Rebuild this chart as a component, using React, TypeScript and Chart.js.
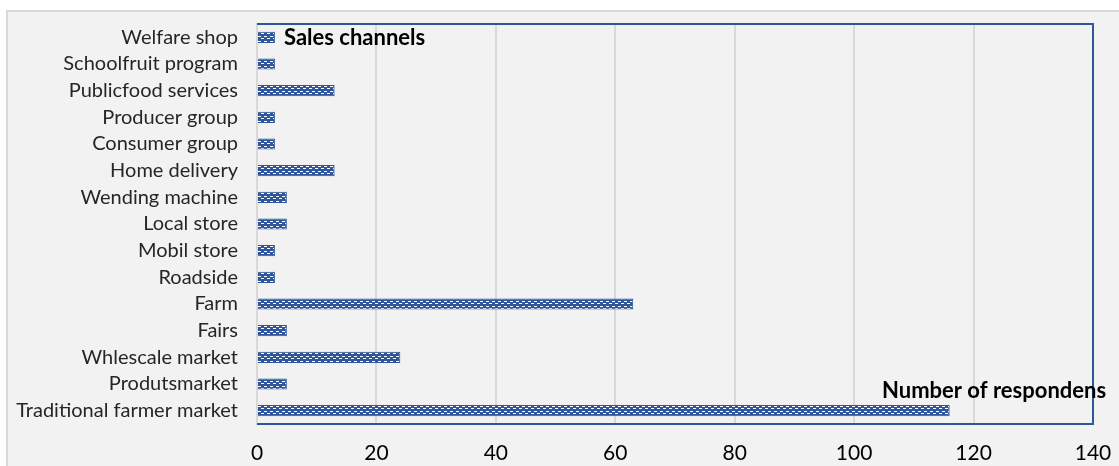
import React, { useEffect, useRef } from "react";
import { Chart, registerables } from "chart.js";

Chart.register(...registerables);

const categories = [
  "Welfare shop",
  "Schoolfruit program",
  "Publicfood services",
  "Producer group",
  "Consumer group",
  "Home delivery",
  "Wending machine",
  "Local store",
  "Mobil store",
  "Roadside",
  "Farm",
  "Fairs",
  "Whlescale market",
  "Produtsmarket",
  "Traditional farmer market",
];
const respondents = [3, 3, 13, 3, 3, 13, 5, 5, 3, 3, 63, 5, 24, 5, 116];
const xTicks = [0, 20, 40, 60, 80, 100, 120, 140];
const yTitle = "Sales channels";
const xTitle = "Number of respondens";

const BLUE = "#2f559a";
const BG = "#f2f2f2";
const FONT = "Lato, 'Open Sans', sans-serif";

function makePattern(): CanvasPattern | string {
  const c = document.createElement("canvas");
  c.width = 6;
  c.height = 5;
  const g = c.getContext("2d");
  if (!g) return BLUE;
  g.fillStyle = BLUE;
  g.fillRect(0, 0, 6, 5);
  g.fillStyle = "#ffffff";
  g.fillRect(0, 1, 3, 1);
  g.fillRect(3, 3, 3, 1);
  const p = g.createPattern(c, "repeat");
  return p || BLUE;
}

export default function App() {
  const ref = useRef<HTMLCanvasElement | null>(null);

  useEffect(() => {
    document.body.style.margin = "0";
    const canvas = ref.current;
    if (!canvas) return;

    const bgPlugin = {
      id: "bgPlugin",
      beforeDraw(chart: any) {
        const { ctx, width, height } = chart;
        ctx.save();
        ctx.fillStyle = "#ffffff";
        ctx.fillRect(0, 0, width, height);
        ctx.fillStyle = BG;
        ctx.fillRect(7, 11, width - 7, height - 11);
        ctx.strokeStyle = "#d9d9d9";
        ctx.lineWidth = 2;
        ctx.beginPath();
        ctx.moveTo(7, height);
        ctx.lineTo(7, 11);
        ctx.lineTo(width, 11);
        ctx.stroke();
        ctx.restore();
      },
      afterDraw(chart: any) {
        const { ctx, chartArea } = chart;
        const { left, right, top, bottom } = chartArea;
        ctx.save();
        ctx.strokeStyle = BLUE;
        ctx.lineWidth = 2;
        ctx.beginPath();
        ctx.moveTo(left, top);
        ctx.lineTo(right, top);
        ctx.lineTo(right, bottom);
        ctx.lineTo(left, bottom);
        ctx.stroke();
        ctx.fillStyle = "#000000";
        ctx.font = `bold 22px ${FONT}`;
        ctx.textBaseline = "middle";
        ctx.textAlign = "left";
        ctx.fillText(yTitle, left + 27, top + 14);
        ctx.fillText(xTitle, right - 211, bottom - 33);
        ctx.restore();
      },
    };

    const chart = new Chart(canvas, {
      type: "bar",
      data: {
        labels: categories,
        datasets: [
          {
            label: xTitle,
            data: respondents,
            backgroundColor: makePattern() as any,
            borderColor: BLUE,
            borderWidth: 1,
            barPercentage: 0.42,
            categoryPercentage: 1,
          },
        ],
      },
      options: {
        indexAxis: "y",
        animation: false,
        responsive: false,
        maintainAspectRatio: false,
        layout: { padding: { left: 0, top: 24, right: 26, bottom: 0 } },
        plugins: {
          legend: { display: false },
          tooltip: { enabled: false },
          title: { display: false },
        },
        scales: {
          x: {
            type: "linear",
            min: 0,
            max: 140,
            afterBuildTicks(scale: any) {
              scale.ticks = xTicks.map((v) => ({ value: v }));
            },
            afterFit(scale: any) {
              scale.height = 42;
              scale.paddingLeft = 0;
              scale.paddingRight = 0;
            },
            grid: {
              color: "#d9d9d9",
              lineWidth: 2,
              drawTicks: false,
            },
            border: { display: false },
            ticks: {
              padding: 17,
              color: "#000000",
              font: { family: FONT, size: 21 },
              maxRotation: 0,
            },
          },
          y: {
            afterFit(scale: any) {
              scale.width = 257;
              scale.paddingTop = 0;
              scale.paddingBottom = 0;
            },
            grid: { display: false, drawTicks: false },
            border: { display: true, color: "#d9d9d9", width: 2 },
            ticks: {
              padding: 19,
              color: "#262626",
              font: { family: FONT, size: 20 },
              autoSkip: false,
            },
          },
        },
      },
      plugins: [bgPlugin],
    });

    return () => chart.destroy();
  }, []);

  return (
    <div style={{ width: 1119, height: 466 }}>
      <canvas ref={ref} width={1119} height={466} style={{ display: "block" }} />
    </div>
  );
}
